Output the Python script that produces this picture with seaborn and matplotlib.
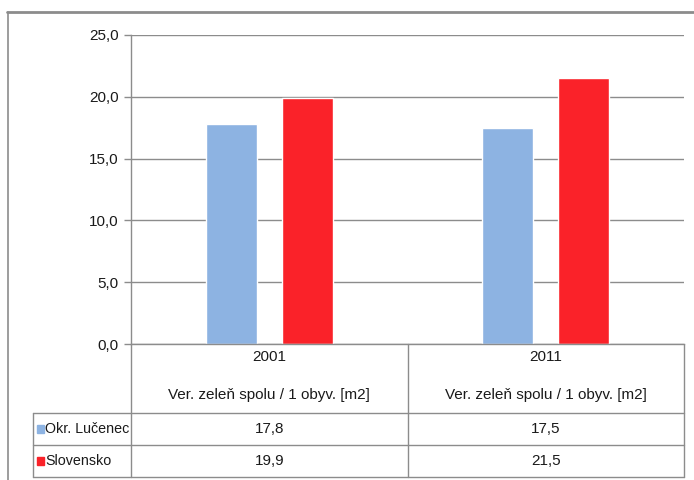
import matplotlib
matplotlib.use("Agg")
import matplotlib.pyplot as plt
import matplotlib.transforms as mtransforms
from matplotlib.lines import Line2D
from matplotlib.patches import Rectangle
from matplotlib.ticker import FuncFormatter
import seaborn as sns
import pandas as pd

# ---- data ----
years = ["2001", "2011"]
category_note = "Ver. zeleň spolu / 1 obyv. [m2]"
series_names = ["Okr. Lučenec", "Slovensko"]
lucenec = [17.8, 17.5]
slovensko = [19.9, 21.5]
colors = ["#8DB3E2", "#FA2229"]

df = pd.DataFrame({
    "year": years * 2,
    "series": [series_names[0]] * len(years) + [series_names[1]] * len(years),
    "value": lucenec + slovensko,
})

sns.set_theme(style="white")
plt.rcParams["font.family"] = ["Liberation Sans", "DejaVu Sans"]
TXT = "#1a1a1a"
GRID = "#8c8c8c"
FS = 11

W, H = 694, 480
fig = plt.figure(figsize=(W / 100, H / 100), dpi=100)
fig.patch.set_facecolor("white")

def fx(x):
    return x / W

def fy(y):
    return 1 - y / H

L, R, T, B = 131, 684, 35, 344
ax = fig.add_axes([fx(L), fy(B), fx(R) - fx(L), fy(T) - fy(B)])

sns.barplot(data=df, x="year", y="value", hue="series", order=years,
            hue_order=series_names, palette=colors, width=0.549, gap=0.33,
            saturation=1, legend=False, ax=ax)

ax.set_ylim(0, 25)
ax.set_xlim(-0.5, len(years) - 0.5)
ax.set_yticks([0, 5, 10, 15, 20, 25])
ax.yaxis.set_major_formatter(FuncFormatter(lambda v, p: f"{v:.1f}".replace(".", ",")))
ax.set_xticks([])
ax.set_xlabel("")
ax.set_ylabel("")
ax.yaxis.grid(True, color=GRID, linewidth=1)
ax.set_axisbelow(True)
for s in ["top", "right"]:
    ax.spines[s].set_visible(False)
for s in ["left", "bottom"]:
    ax.spines[s].set_color(GRID)
    ax.spines[s].set_linewidth(1)
ax.tick_params(axis="y", which="both", left=True, direction="out", length=5,
               width=1, color=GRID, labelsize=FS, labelcolor=TXT, pad=4)

# ---- data table below the axis ----
def hline(y, x0, x1, lw=1, color=GRID):
    fig.add_artist(Line2D([fx(x0), fx(x1)], [fy(y), fy(y)], color=color, lw=lw))

def vline(x, y0, y1, lw=1, color=GRID):
    fig.add_artist(Line2D([fx(x), fx(x)], [fy(y0), fy(y1)], color=color, lw=lw))

row_hdr_bottom, row1_bottom, row2_bottom = 413, 445, 477
TL = 33
hline(row_hdr_bottom, TL, R)
hline(row1_bottom, TL, R)
hline(row2_bottom, TL, R)
vline(TL, row_hdr_bottom, row2_bottom)
vline(L, B, row2_bottom)
mid = (L + R) / 2
vline(mid, B, row2_bottom)
vline(R, B, row2_bottom)

trans = mtransforms.blended_transform_factory(ax.transData, fig.transFigure)
for i, yr in enumerate(years):
    ax.text(i, fy(357), yr, transform=trans, ha="center", va="center",
            fontsize=FS, color=TXT, clip_on=False)
    ax.text(i, fy(395), category_note, transform=trans, ha="center", va="center",
            fontsize=FS, color=TXT, clip_on=False)
    ax.text(i, fy(429), f"{lucenec[i]:.1f}".replace(".", ","), transform=trans,
            ha="center", va="center", fontsize=FS, color=TXT, clip_on=False)
    ax.text(i, fy(461), f"{slovensko[i]:.1f}".replace(".", ","), transform=trans,
            ha="center", va="center", fontsize=FS, color=TXT, clip_on=False)

for name, col, yc in [(series_names[0], colors[0], 429), (series_names[1], colors[1], 461)]:
    fig.add_artist(Rectangle((fx(37), fy(yc + 4)), fx(7), 8 / H, color=col,
                             transform=fig.transFigure))
    fig.text(fx(45), fy(yc), name, ha="left", va="center", fontsize=10.3, color=TXT)

# ---- outer frame ----
fig.add_artist(Line2D([fx(7), fx(694)], [fy(12), fy(12)], color=GRID, lw=2))
fig.add_artist(Line2D([fx(8), fx(8)], [fy(12), fy(480)], color=GRID, lw=1.2))

fig.savefig("out.png", dpi=100, facecolor="white")
